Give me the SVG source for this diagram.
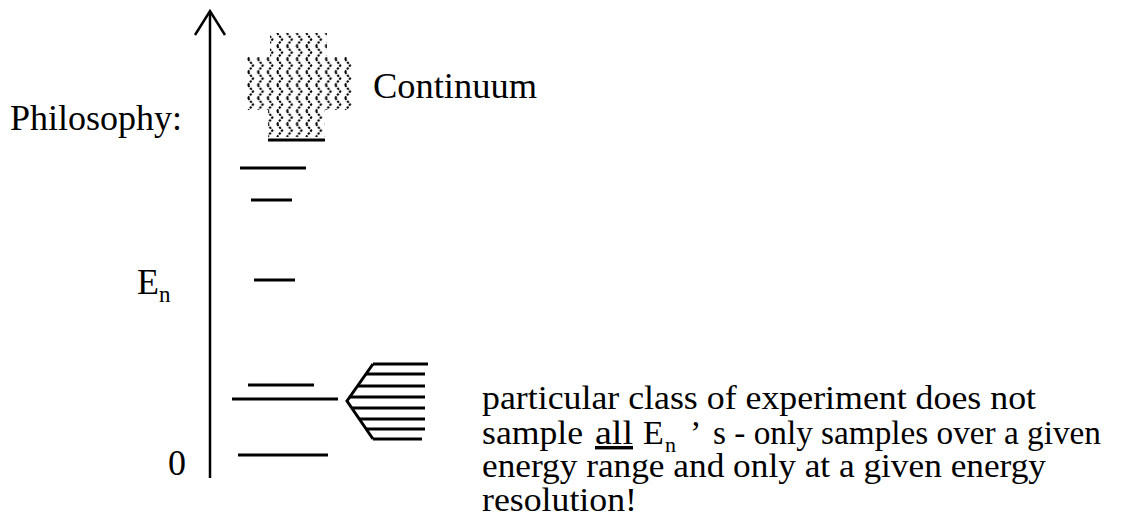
<svg xmlns="http://www.w3.org/2000/svg" width="1127" height="525" viewBox="0 0 1127 525">
<style>
.t{font-family:"Liberation Serif","Times New Roman",serif;fill:#000}
.lbl{font-size:36px}
.para{font-size:34px}
.lv{stroke:#000;stroke-width:3;fill:none}
</style>
<defs>
<pattern id="zig" x="246" y="33" width="9.7" height="13" patternUnits="userSpaceOnUse">
<path d="M2,0 L7,6.5 L2,13" stroke="#000" stroke-width="2" fill="none" stroke-dasharray="2.4 1.2"/>
</pattern>
</defs>
<rect width="1127" height="525" fill="#fff"/>
<g id="connectors">
<g id="axis">
<line x1="210" y1="12" x2="210" y2="478" stroke="#000" stroke-width="2.5"/>
<polyline points="195,35 210,11 225,35" fill="none" stroke="#000" stroke-width="2.5"/>
</g>
</g>
<g id="continuum">
<path d="M270,33 H327 V57 H352 V110 H325 V137 H268 V110 H245 V57 H270 Z" fill="url(#zig)"/>
<line x1="268" y1="140" x2="325" y2="140" class="lv"/>
<text class="t lbl" font-family="Liberation Serif, serif" x="373" y="98" textLength="164" lengthAdjust="spacingAndGlyphs">Continuum</text>
</g>
<g id="levels">
<line class="lv" x1="240" y1="168" x2="306" y2="168"/>
<line class="lv" x1="251" y1="200" x2="292" y2="200"/>
<line class="lv" x1="254" y1="280" x2="295" y2="280"/>
<line class="lv" x1="248" y1="385" x2="314" y2="385"/>
<line class="lv" x1="232" y1="399" x2="338" y2="399"/>
<line class="lv" x1="238" y1="455" x2="328" y2="455"/>
</g>
<g id="bracket">
<polyline points="373,364 347,401 373,439" class="lv" stroke-width="3.5"/>
<line class="lv" x1="373" y1="364" x2="428" y2="364"/>
<line class="lv" x1="366" y1="374" x2="425" y2="374"/>
<line class="lv" x1="357" y1="386" x2="425" y2="386"/>
<line class="lv" x1="350" y1="397" x2="425" y2="397"/>
<line class="lv" x1="352" y1="408" x2="425" y2="408"/>
<line class="lv" x1="359" y1="419" x2="425" y2="419"/>
<line class="lv" x1="366" y1="429" x2="425" y2="429"/>
<line class="lv" x1="373" y1="439" x2="422" y2="439"/>
</g>
<g id="labels">
<text class="t lbl" font-family="Liberation Serif, serif" x="182" y="130" text-anchor="end">Philosophy:</text>
<text class="t lbl" font-family="Liberation Serif, serif" x="137" y="294">E<tspan font-size="23" dy="8">n</tspan></text>
<text class="t lbl" font-family="Liberation Serif, serif" x="168" y="475">0</text>
</g>
<g id="note">
<text class="t para" font-family="Liberation Serif, serif" x="482" y="409" textLength="554" lengthAdjust="spacingAndGlyphs">particular class of experiment does not</text>
<text class="t para" font-family="Liberation Serif, serif" y="444"><tspan x="482" textLength="101" lengthAdjust="spacingAndGlyphs">sample</tspan><tspan x="595" textLength="38" lengthAdjust="spacingAndGlyphs" text-decoration="underline">all</tspan><tspan x="643">E</tspan><tspan x="665" font-size="22" dy="8">n</tspan><tspan x="690" dy="-8">’</tspan><tspan x="713" textLength="388" lengthAdjust="spacingAndGlyphs">s - only samples over a given</tspan></text>
<text class="t para" font-family="Liberation Serif, serif" x="482" y="477" textLength="564" lengthAdjust="spacingAndGlyphs">energy range and only at a given energy</text>
<text class="t para" font-family="Liberation Serif, serif" x="482" y="511" textLength="155" lengthAdjust="spacingAndGlyphs">resolution!</text>
</g>
</svg>
